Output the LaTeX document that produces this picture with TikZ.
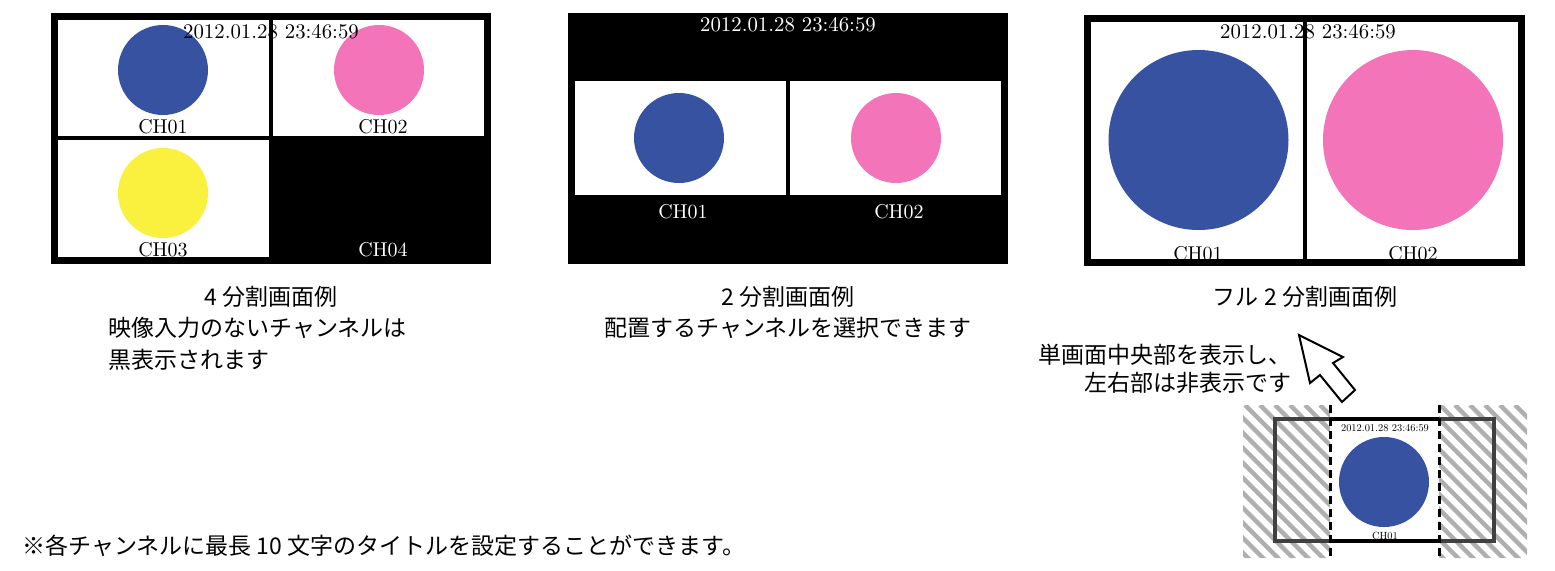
\documentclass[tikz,border=0pt]{standalone}
\usepackage{fontspec}
\newfontfamily\jp{Noto Sans CJK JP}
\usetikzlibrary{positioning}
\definecolor{chblue}{RGB}{56,82,162}
\definecolor{chpink}{RGB}{243,116,185}
\definecolor{chyellow}{RGB}{250,240,62}
\definecolor{hatchgray}{RGB}{175,175,175}
\definecolor{framegray}{RGB}{64,64,64}
\newcommand{\halfsize}[1]{\scalebox{0.5}{\fontsize{10.4}{12}\selectfont #1}}
\begin{document}
\begin{tikzpicture}[x=0.5pt,y=-0.5pt,
    stamp/.style={font=\fontsize{10.4}{12}\selectfont,inner sep=0pt},
    chlabel/.style={font=\fontsize{10}{12}\selectfont,inner sep=0pt},
    tiny/.style={inner sep=0pt},
    caption/.style={font=\jp\fontsize{11.5}{16}\selectfont,inner sep=0pt},
    frame/.style={draw=black,line width=3.5pt},
    divider/.style={draw=black,line width=2pt},
    hatch/.style={draw=hatchgray,line width=2.2pt},
    cut/.style={draw=black,line width=1.5pt,dash pattern=on 4pt off 2.5pt}]
\useasboundingbox (0,0) rectangle (1555,570);

% 4 split
\fill[white] (51,13) rectangle (491,264);
\fill[black] (273,138) rectangle (491,264);
\fill[chblue] (163,70) circle (45);
\fill[chpink] (379,70) circle (45);
\fill[chyellow] (163,193) circle (45);
\node[stamp] (ts_a) at (271,32) {2012.01.28 23:46:59};
\node[chlabel] (a_1) at (163,127) {CH01};
\node[chlabel] (a_2) at (383,127) {CH02};
\node[chlabel] (a_3) at (163,250) {CH03};
\node[chlabel,text=white] (a_4) at (383,250) {CH04};
\draw[divider] (271,16) -- (271,262);
\draw[divider] (56,138) -- (486,138);
\draw[frame] (54.5,16.5) rectangle (487.5,260.5);

% 2 split
\fill[black] (568,13) rectangle (1008,264);
\fill[white] (575,81) rectangle (786,195);
\fill[white] (790,81) rectangle (1001,195);
\fill[chblue] (679,138) circle (45);
\fill[chpink] (896,138) circle (45);
\node[stamp,text=white] (ts_b) at (788,25) {2012.01.28 23:46:59};
\node[chlabel,text=white] (b_1) at (683,212) {CH01};
\node[chlabel,text=white] (b_2) at (899,212) {CH02};

% full 2 split
\fill[white] (1084,15) rectangle (1525,266);
\fill[chblue] (1198.5,140) circle (90);
\fill[chpink] (1413,140) circle (90);
\node[stamp] (ts_c) at (1308,32) {2012.01.28 23:46:59};
\node[chlabel] (c_1) at (1198,254) {CH01};
\node[chlabel] (c_2) at (1413,254) {CH02};
\draw[divider] (1305,18) -- (1305,262);
\draw[frame] (1087.5,18.5) rectangle (1521.5,262.5);

% captions
\node[caption] (cap_a) at (271,297) {4 分割画面例};
\node[caption,anchor=west,align=left] (note_a) at (108,344) {映像入力のないチャンネルは\\黒表示されます};
\node[caption] (cap_b) at (788,297) {2 分割画面例};
\node[caption] (note_b) at (788,328) {配置するチャンネルを選択できます};
\node[caption] (cap_c) at (1305,297) {フル 2 分割画面例};
\node[caption,anchor=east,align=right,font=\jp\fontsize{11.5}{14}\selectfont] (note_c) at (1292,369) {単画面中央部を表示し、\\左右部は非表示です};

% pointer
\draw[fill=white,line width=1pt,line join=miter] (1299,335) -- (1343,357) -- (1333,363) -- (1355,390)
    -- (1342,402) -- (1320,375) -- (1310,383) -- cycle;

% single screen crop
\begin{scope}
  \clip (1243,405) rectangle (1330,558) (1439,405) rectangle (1527,558);
  \foreach \s in {1080,1095,...,1530}
    \draw[hatch] (\s,405) -- ++(160,160);
\end{scope}
\draw[framegray,line width=2pt] (1275,419) rectangle (1494,541);
\draw[black,line width=2pt] (1330,419) -- (1439,419) (1330,541) -- (1439,541);
\fill[chblue] (1384,482) circle (45);
\node[tiny] (ts_d) at (1385,428) {\halfsize{2012.01.28 23:46:59}};
\node[tiny] (d_1) at (1385,536) {\halfsize{CH01}};
\draw[cut] (1330,405) -- (1330,558);
\draw[cut] (1439,405) -- (1439,558);

\node[caption,anchor=west] (foot) at (22,546) {※各チャンネルに最長 10 文字のタイトルを設定することができます。};
\end{tikzpicture}
\end{document}
